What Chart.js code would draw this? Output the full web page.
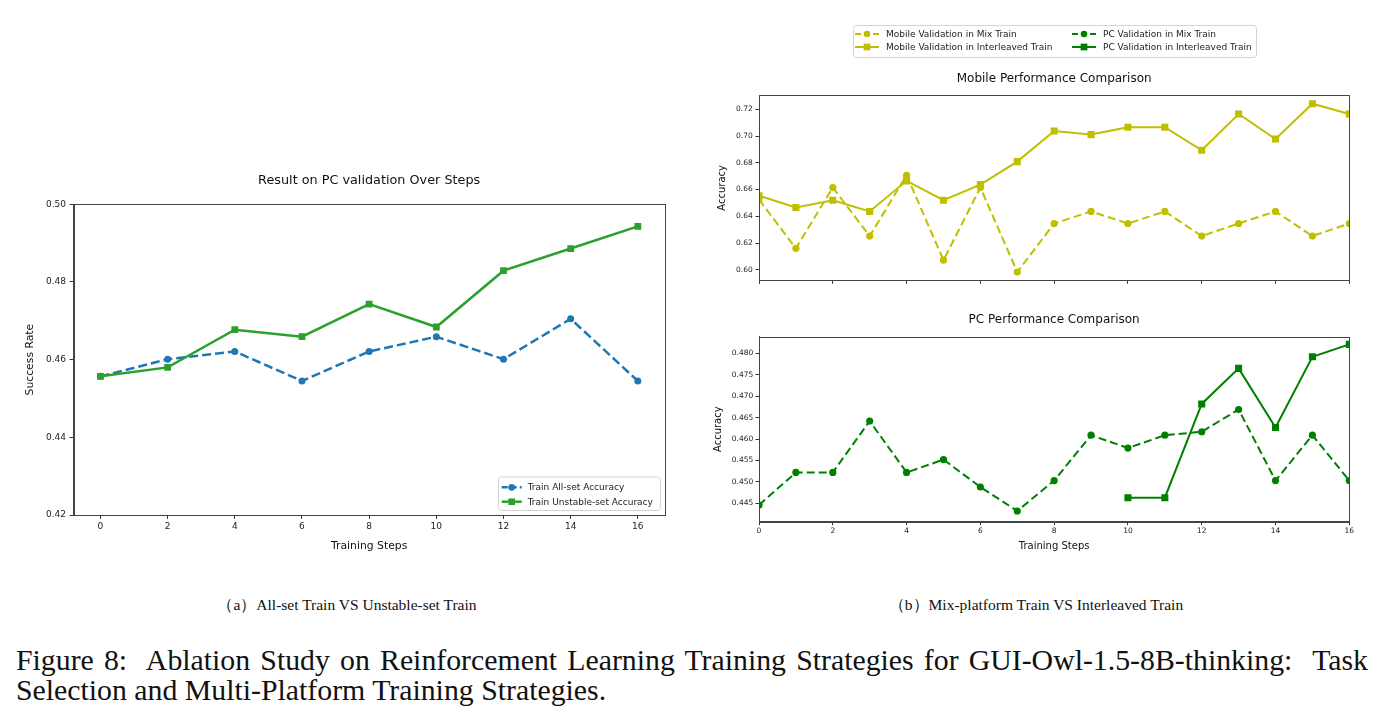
<!DOCTYPE html>
<html>
<head>
<meta charset="utf-8">
<script src="https://cdn.jsdelivr.net/npm/chart.js@4.4.1/dist/chart.umd.min.js"></script>
<style>
  body { margin: 0; background: #fff; }
  #page { position: relative; width: 1384px; height: 718px; overflow: hidden; background: #fff; }
  .box { position: absolute; }
  .sub { position: absolute; top: 595px; font: 15.5px "Liberation Serif", serif; color: #111; white-space: nowrap; transform: translateX(-50%); }
  #cap { position: absolute; left: 16px; top: 645px; width: 1352px; font: 29.8px/30px "Liberation Serif", serif; color: #111; }
  #cap .l1 { text-align: justify; text-align-last: justify; white-space: nowrap; }
</style>
</head>
<body>
<div id="page">
  <div class="box" style="left:0;top:160px;width:700px;height:400px"><canvas id="chartA"></canvas></div>
  <div class="box" style="left:700px;top:0;width:684px;height:300px"><canvas id="chartMobile"></canvas></div>
  <div class="box" style="left:700px;top:300px;width:684px;height:260px"><canvas id="chartPC"></canvas></div>
  <div class="sub" style="left:347px">（a）All-set Train VS Unstable-set Train</div>
  <div class="sub" style="left:1036px">（b）Mix-platform Train VS Interleaved Train</div>
  <div id="cap">
    <div class="l1">Figure 8:&nbsp; Ablation Study on Reinforcement Learning Training Strategies for GUI-Owl-1.5-8B-thinking:&nbsp; Task</div>
    <div>Selection and Multi-Platform Training Strategies.</div>
  </div>
</div>
<script>
// (a) PC validation, every 2 steps
const stepsA = [0, 2, 4, 6, 8, 10, 12, 14, 16];
const allSetAcc = [0.4557, 0.4601, 0.4621, 0.4545, 0.4621, 0.4659, 0.4601, 0.4705, 0.4545];
const unstableSetAcc = [0.4557, 0.4580, 0.4677, 0.4659, 0.4743, 0.4684, 0.4829, 0.4886, 0.4943];
const ticksA = [0.42, 0.44, 0.46, 0.48, 0.50];

// (b) mobile / PC validation, every step
const stepsB = [0, 1, 2, 3, 4, 5, 6, 7, 8, 9, 10, 11, 12, 13, 14, 15, 16];
const stepTicksB = [0, 2, 4, 6, 8, 10, 12, 14, 16];
const mobileMix = [0.6525, 0.6160, 0.6615, 0.6252, 0.6707, 0.6072, 0.6615, 0.5983, 0.6346,
                   0.6436, 0.6346, 0.6436, 0.6252, 0.6346, 0.6436, 0.6252, 0.6346];
const mobileInterleaved = [0.6553, 0.6466, 0.6520, 0.6436, 0.6665, 0.6520, 0.6637, 0.6809, 0.7038,
                           0.7011, 0.7066, 0.7066, 0.6894, 0.7165, 0.6978, 0.7242, 0.7165];
const pcMix = [0.4446, 0.4522, 0.4522, 0.4642, 0.4522, 0.4552, 0.4488, 0.4432, 0.4503,
               0.4609, 0.4579, 0.4609, 0.4617, 0.4669, 0.4503, 0.4609, 0.4503];
const pcInterleaved = [null, null, null, null, null, null, null, null, null,
                       null, 0.4463, 0.4463, 0.4682, 0.4765, 0.4627, 0.4792, 0.4821];
const mobileTicks = [0.60, 0.62, 0.64, 0.66, 0.68, 0.70, 0.72];
const pcTicks = [0.445, 0.450, 0.455, 0.460, 0.465, 0.470, 0.475, 0.480];

const BLUE = '#1f77b4', GREEN = '#2ca02c', OLIVE = '#bfbf00', DKGREEN = '#008000';

Chart.defaults.font.family = '"DejaVu Sans", sans-serif';
Chart.defaults.color = '#222';
Chart.defaults.animation = false;

function pts(xs, ys) {
  return xs.map((x, i) => ({ x: x, y: ys[i] }));
}

// matplotlib style box around the axes
const frame = {
  id: 'frame',
  afterDraw(chart) {
    const a = chart.chartArea, ctx = chart.ctx;
    ctx.save();
    ctx.strokeStyle = '#444';
    ctx.lineWidth = 1;
    ctx.strokeRect(Math.round(a.left) + 0.5, Math.round(a.top) + 0.5,
                   Math.round(a.right - a.left), Math.round(a.bottom - a.top));
    ctx.restore();
  }
};

function marker(ctx, style, x, y, r) {
  ctx.beginPath();
  if (style === 'rect') ctx.rect(x - r, y - r, 2 * r, 2 * r);
  else ctx.arc(x, y, r, 0, Math.PI * 2);
  ctx.fill();
}

// legend drawn as a framed box, like matplotlib
const boxLegend = {
  id: 'boxLegend',
  afterDraw(chart, args, o) {
    if (!o.items) return;
    const ctx = chart.ctx;
    ctx.save();
    ctx.fillStyle = 'rgba(255,255,255,0.85)';
    ctx.strokeStyle = '#d4d4d4';
    ctx.lineWidth = 1;
    ctx.beginPath();
    ctx.roundRect(o.x + 0.5, o.y + 0.5, o.w, o.h, 3);
    ctx.fill();
    ctx.stroke();
    ctx.font = o.fontSize + 'px "DejaVu Sans", sans-serif';
    ctx.textBaseline = 'middle';
    o.items.forEach(it => {
      const lx = o.x + it.dx, ly = o.y + it.dy;
      ctx.strokeStyle = it.color;
      ctx.fillStyle = it.color;
      ctx.lineWidth = it.lineWidth;
      ctx.setLineDash(it.dash || []);
      ctx.beginPath();
      ctx.moveTo(lx, ly);
      ctx.lineTo(lx + o.lineLen, ly);
      ctx.stroke();
      ctx.setLineDash([]);
      marker(ctx, it.pointStyle, lx + o.lineLen / 2, ly, it.size);
      ctx.fillStyle = '#222';
      ctx.fillText(it.label, lx + o.textGap, ly + 0.5);
    });
    ctx.restore();
  }
};

// ---------- (a) ----------
new Chart(document.getElementById('chartA'), {
  type: 'line',
  data: {
    datasets: [
      {
        label: 'Train All-set Accuracy',
        data: pts(stepsA, allSetAcc),
        borderColor: BLUE, backgroundColor: BLUE,
        borderWidth: 2.5, borderDash: [9, 4],
        pointStyle: 'circle', pointRadius: 3.5, pointBorderWidth: 0,
        order: 2
      },
      {
        label: 'Train Unstable-set Accuracy',
        data: pts(stepsA, unstableSetAcc),
        borderColor: GREEN, backgroundColor: GREEN,
        borderWidth: 2.5,
        pointStyle: 'rect', pointRadius: 4.8, pointBorderWidth: 0,
        order: 1
      }
    ]
  },
  options: {
    responsive: true,
    maintainAspectRatio: false,
    layout: { padding: { left: 0, right: 35.3, top: 0, bottom: 3 } },
    plugins: {
      legend: { display: false },
      tooltip: { enabled: false },
      title: {
        display: true, fullSize: false,
        text: 'Result on PC validation Over Steps',
        font: { size: 12.8, weight: 'normal' }, color: '#111',
        padding: { top: 13.3, bottom: 15.6 }
      },
      boxLegend: {
        x: 498, y: 316.5, w: 162, h: 33.5, lineLen: 20, textGap: 26, fontSize: 9,
        items: [
          { label: 'Train All-set Accuracy', color: BLUE, lineWidth: 2.5, dash: [6, 3], pointStyle: 'circle', size: 3.4, dx: 3.7, dy: 10.8 },
          { label: 'Train Unstable-set Accuracy', color: GREEN, lineWidth: 2.5, pointStyle: 'rect', size: 3.3, dx: 3.7, dy: 25.2 }
        ]
      }
    },
    scales: {
      x: {
        type: 'linear', min: -0.8, max: 16.8,
        afterBuildTicks: s => { s.ticks = stepsA.map(v => ({ value: v })); },
        afterFit: s => { s.height = 42; },
        grid: { drawOnChartArea: false, tickLength: 4, color: '#333' },
        border: { color: '#444' },
        ticks: { font: { size: 9 }, padding: 2, maxRotation: 0, autoSkip: false },
        title: { display: true, text: 'Training Steps', font: { size: 10.8 }, color: '#111', padding: { top: 4, bottom: 4 } }
      },
      y: {
        min: 0.42, max: 0.50,
        afterBuildTicks: s => { s.ticks = ticksA.map(v => ({ value: v })); },
        afterFit: s => { s.width = 73.6; },
        grid: { drawOnChartArea: false, tickLength: 4, color: '#333' },
        border: { color: '#444' },
        ticks: { font: { size: 9 }, padding: 3.6, callback: v => v.toFixed(2) },
        title: { display: true, text: 'Success Rate', font: { size: 10.8 }, color: '#111', padding: { top: 23.5, bottom: 0 } }
      }
    }
  },
  plugins: [frame, boxLegend]
});

// ---------- (b) top: mobile ----------
new Chart(document.getElementById('chartMobile'), {
  type: 'line',
  data: {
    datasets: [
      {
        label: 'Mobile Validation in Mix Train',
        data: pts(stepsB, mobileMix),
        borderColor: OLIVE, backgroundColor: OLIVE,
        borderWidth: 2, borderDash: [8, 4],
        pointStyle: 'circle', pointRadius: 3.6, pointBorderWidth: 0,
        clip: 0, order: 2
      },
      {
        label: 'Mobile Validation in Interleaved Train',
        data: pts(stepsB, mobileInterleaved),
        borderColor: OLIVE, backgroundColor: OLIVE,
        borderWidth: 2,
        pointStyle: 'rect', pointRadius: 5, pointBorderWidth: 0,
        clip: 0, order: 1
      }
    ]
  },
  options: {
    responsive: true,
    maintainAspectRatio: false,
    layout: { padding: { left: 0, right: 34.7, top: 60, bottom: 0 } },
    plugins: {
      legend: { display: false },
      tooltip: { enabled: false },
      title: {
        display: true, fullSize: false,
        text: 'Mobile Performance Comparison',
        font: { size: 12, weight: 'normal' }, color: '#111',
        padding: { top: 11.8, bottom: 9.1 }
      },
      boxLegend: {
        x: 153, y: 25, w: 403, h: 32, lineLen: 24, textGap: 31, fontSize: 9,
        items: [
          { label: 'Mobile Validation in Mix Train', color: OLIVE, lineWidth: 2, dash: [6, 3], pointStyle: 'circle', size: 3.3, dx: 2, dy: 9 },
          { label: 'Mobile Validation in Interleaved Train', color: OLIVE, lineWidth: 2, pointStyle: 'rect', size: 3.4, dx: 2, dy: 22 },
          { label: 'PC Validation in Mix Train', color: DKGREEN, lineWidth: 2, dash: [6, 3], pointStyle: 'circle', size: 3.3, dx: 219, dy: 9 },
          { label: 'PC Validation in Interleaved Train', color: DKGREEN, lineWidth: 2, pointStyle: 'rect', size: 3.4, dx: 219, dy: 22 }
        ]
      }
    },
    scales: {
      x: {
        type: 'linear', min: 0, max: 16,
        afterBuildTicks: s => { s.ticks = stepTicksB.map(v => ({ value: v })); },
        afterFit: s => { s.height = 19.7; },
        grid: { drawOnChartArea: false, tickLength: 3.5, color: '#333' },
        border: { color: '#444' },
        ticks: { font: { size: 7.5 }, padding: 1, maxRotation: 0, autoSkip: false, callback: () => '' }
      },
      y: {
        min: 0.5921, max: 0.7305,
        afterBuildTicks: s => { s.ticks = mobileTicks.map(v => ({ value: v })); },
        afterFit: s => { s.width = 59; },
        grid: { drawOnChartArea: false, tickLength: 3.5, color: '#333' },
        border: { color: '#444' },
        ticks: { font: { size: 7.5 }, padding: 2.8, callback: v => v.toFixed(2) },
        title: { display: true, text: 'Accuracy', font: { size: 10 }, color: '#111', padding: { top: 16.7, bottom: 0 } }
      }
    }
  },
  plugins: [frame, boxLegend]
});

// ---------- (b) bottom: PC ----------
new Chart(document.getElementById('chartPC'), {
  type: 'line',
  data: {
    datasets: [
      {
        label: 'PC Validation in Mix Train',
        data: pts(stepsB, pcMix),
        borderColor: DKGREEN, backgroundColor: DKGREEN,
        borderWidth: 2, borderDash: [8, 4],
        pointStyle: 'circle', pointRadius: 3.6, pointBorderWidth: 0,
        clip: 0, order: 2
      },
      {
        label: 'PC Validation in Interleaved Train',
        data: pts(stepsB, pcInterleaved),
        borderColor: DKGREEN, backgroundColor: DKGREEN,
        borderWidth: 2, spanGaps: false,
        pointStyle: 'rect', pointRadius: 5, pointBorderWidth: 0,
        clip: 0, order: 1
      }
    ]
  },
  options: {
    responsive: true,
    maintainAspectRatio: false,
    layout: { padding: { left: 0, right: 34.7, top: 0, bottom: 0 } },
    plugins: {
      legend: { display: false },
      tooltip: { enabled: false },
      title: {
        display: true, fullSize: false,
        text: 'PC Performance Comparison',
        font: { size: 12, weight: 'normal' }, color: '#111',
        padding: { top: 12.8, bottom: 9.5 }
      }
    },
    scales: {
      x: {
        type: 'linear', min: 0, max: 16,
        afterBuildTicks: s => { s.ticks = stepTicksB.map(v => ({ value: v })); },
        afterFit: s => { s.height = 38.3; },
        grid: { drawOnChartArea: false, tickLength: 3.5, color: '#333' },
        border: { color: '#444' },
        ticks: { font: { size: 7.5 }, padding: 1, maxRotation: 0, autoSkip: false },
        title: { display: true, text: 'Training Steps', font: { size: 10 }, color: '#111', padding: { top: 2, bottom: 7.3 } }
      },
      y: {
        min: 0.4407, max: 0.4839,
        afterBuildTicks: s => { s.ticks = pcTicks.map(v => ({ value: v })); },
        afterFit: s => { s.width = 59; },
        grid: { drawOnChartArea: false, tickLength: 3.5, color: '#333' },
        border: { color: '#444' },
        ticks: { font: { size: 7.5 }, padding: 2.3, callback: v => v.toFixed(3) },
        title: { display: true, text: 'Accuracy', font: { size: 10 }, color: '#111', padding: { top: 12.3, bottom: 0 } }
      }
    }
  },
  plugins: [frame]
});
</script>
</body>
</html>
